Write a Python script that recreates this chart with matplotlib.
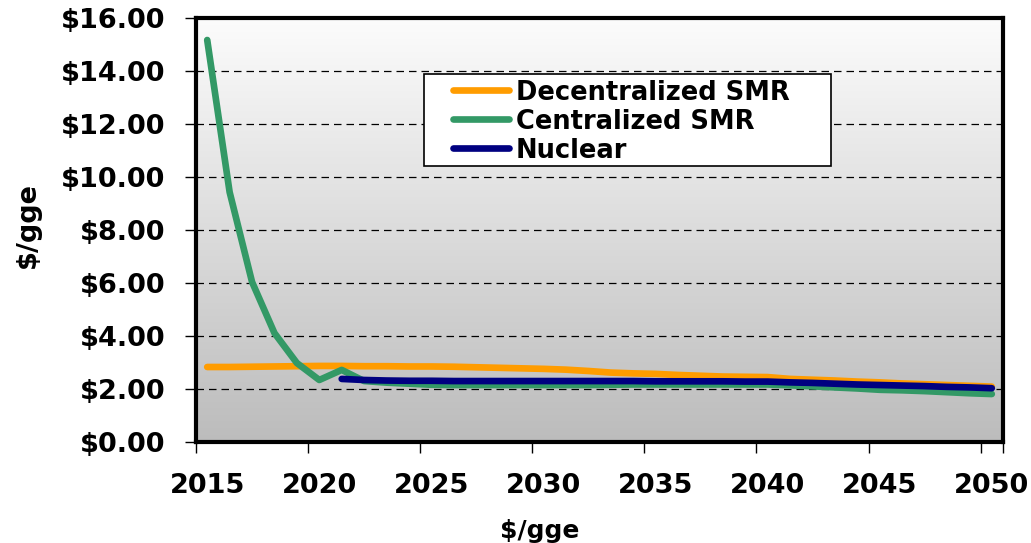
import numpy as np
import matplotlib
matplotlib.use("Agg")
import matplotlib.pyplot as plt
from matplotlib.patches import Rectangle
from matplotlib.lines import Line2D

years = list(range(2015, 2051))

decentralized_smr = [2.83, 2.83, 2.84, 2.85, 2.86, 2.87, 2.87, 2.86, 2.86, 2.85,
                     2.85, 2.84, 2.82, 2.80, 2.78, 2.76, 2.73, 2.68, 2.62, 2.59,
                     2.57, 2.53, 2.50, 2.47, 2.46, 2.45, 2.38, 2.35, 2.32, 2.28,
                     2.25, 2.21, 2.18, 2.15, 2.12, 2.09]

centralized_smr = [15.17, 9.43, 6.04, 4.11, 2.98, 2.34, 2.72, 2.30, 2.24, 2.20,
                   2.16, 2.15, 2.15, 2.15, 2.15, 2.15, 2.15, 2.15, 2.16, 2.17,
                   2.17, 2.17, 2.17, 2.17, 2.17, 2.17, 2.14, 2.10, 2.06, 2.02,
                   1.97, 1.95, 1.92, 1.88, 1.84, 1.81]

# Nuclear series begins in 2021
nuclear = [None] * 6 + [2.38, 2.34, 2.32, 2.31, 2.31, 2.30, 2.30, 2.30, 2.30, 2.30,
                        2.30, 2.30, 2.30, 2.30, 2.29, 2.29, 2.29, 2.29, 2.28, 2.28,
                        2.25, 2.23, 2.20, 2.17, 2.15, 2.13, 2.11, 2.08, 2.06, 2.03]

series = [
    ("Decentralized SMR", decentralized_smr, "#FF9C00"),
    ("Centralized SMR", centralized_smr, "#339966"),
    ("Nuclear", nuclear, "#000080"),
]

y_ticks = [0, 2, 4, 6, 8, 10, 12, 14, 16]
x_label_years = [2015, 2020, 2025, 2030, 2035, 2040, 2045, 2050]

BOLD = dict(family="DejaVu Sans", weight="bold")

fig = plt.figure(figsize=(10.31, 5.43), dpi=100)
W, H = 1031, 543
ax = fig.add_axes([196 / W, (H - 442) / H, (1003 - 196) / W, (442 - 18) / H])

n = len(years)
idx = np.arange(n)
ax.set_xlim(-0.5, n - 0.5)
ax.set_ylim(0, 16)

# vertical grey gradient fill of the plotting area
grad = np.linspace(252, 188, 256)[:, None] / 255.0
grad_img = np.dstack([grad, grad, grad])
ax.imshow(grad_img, extent=(-0.5, n - 0.5, 0, 16), aspect="auto",
          origin="upper", zorder=0, interpolation="bilinear")

# dashed horizontal gridlines
for yv in y_ticks[1:-1]:
    ax.axhline(yv, color="black", lw=0.9, ls=(0, (6, 4)), zorder=1)

for name, vals, col in series:
    v = np.array([np.nan if x is None else x for x in vals], dtype=float)
    ax.plot(idx, v, color=col, lw=4.8, solid_capstyle="round",
            solid_joinstyle="round", zorder=3)

# axes styling
for sp in ax.spines.values():
    sp.set_linewidth(3)
    sp.set_color("black")
    sp.set_zorder(5)

ax.set_yticks(y_ticks)
ax.set_yticklabels([f"${v:.2f}" for v in y_ticks], fontsize=19.5, **BOLD)
ax.tick_params(axis="y", direction="out", length=8, width=1, pad=14)

# category ticks between groups of five years, labels at category centres
ax.set_xticks([i - 0.5 for i in range(0, n, 5)] + [n - 0.5])
ax.set_xticklabels([])
ax.set_xticks([years.index(y) for y in x_label_years], minor=True)
ax.set_xticklabels([str(y) for y in x_label_years], minor=True,
                   fontsize=19.5, **BOLD)
ax.tick_params(axis="x", which="major", direction="out", length=8, width=1)
ax.tick_params(axis="x", which="minor", length=0, pad=22)

fig.text(28 / W, (H - 225) / H, "$/gge", rotation=90, ha="center",
         va="center", fontsize=19.5, **BOLD)
fig.text(540 / W, (H - 519) / H, "$/gge", ha="center", va="top",
         fontsize=18, **BOLD)

# legend box
def to_ax(px, py):
    return (px - 196) / (1003 - 196), (442 - py) / (442 - 18)

x0, y0 = to_ax(424, 166)
x1, y1 = to_ax(831, 74)
ax.add_patch(Rectangle((x0, y0), x1 - x0, y1 - y0, transform=ax.transAxes,
                       facecolor="white", edgecolor="black", lw=1.2, zorder=6))
row_y = [90, 119, 148]
for (name, vals, col), ry in zip(series, row_y):
    lx0, ly = to_ax(453, ry)
    lx1, _ = to_ax(509, ry)
    ax.add_line(Line2D([lx0, lx1], [ly, ly], transform=ax.transAxes,
                       color=col, lw=4.8, solid_capstyle="round", zorder=7))
    tx, _ = to_ax(516, ry)
    ax.text(tx, ly, name, transform=ax.transAxes, ha="left", va="center_baseline",
            fontsize=18.5, zorder=7, **BOLD)

fig.savefig("out.png", dpi=100)
